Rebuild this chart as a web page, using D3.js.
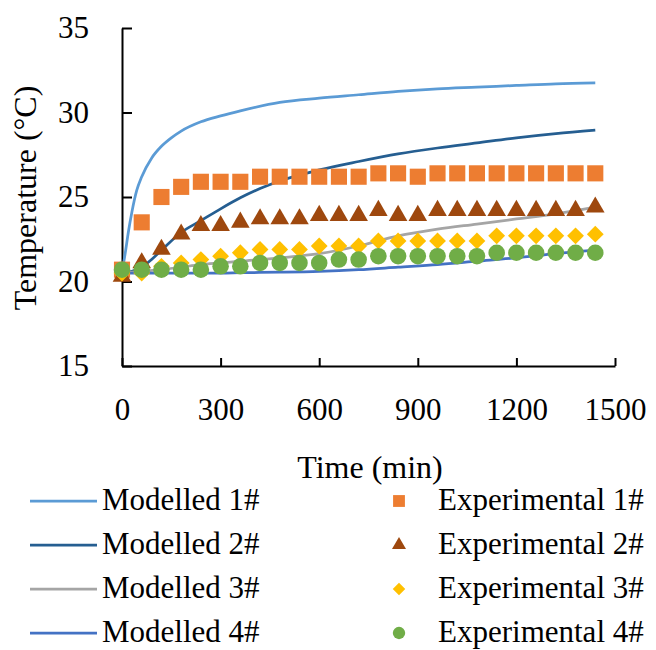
<!DOCTYPE html>
<html lang="en">
<head>
<meta charset="UTF-8">
<title>Temperature vs time</title>
<script src="https://d3js.org/d3.v7.min.js"></script>
<style>
  body { margin: 0; background: #fff; }
  svg text { font-family: "Palatino Linotype", "Book Antiqua", Palatino, "Liberation Serif", serif; fill: #000; }
  .axis path, .axis line { stroke: #000; stroke-width: 2; }
  .axis text { font-size: 31px; }
</style>
</head>
<body>
<svg width="656" height="650"></svg>
<script>
// experimental readings, one every 60 min
const expTime = d3.range(0, 1441, 60);
const exp1 = [20.7, 23.5, 25.0, 25.6, 25.9, 25.9, 25.9, 26.2, 26.2, 26.2, 26.2, 26.2, 26.2, 26.4, 26.4, 26.2, 26.4, 26.4, 26.4, 26.4, 26.4, 26.4, 26.4, 26.4, 26.4];
const exp2 = [20.3, 21.1, 21.9, 22.8, 23.3, 23.3, 23.5, 23.7, 23.7, 23.7, 23.9, 23.9, 23.9, 24.2, 23.9, 23.9, 24.2, 24.2, 24.2, 24.2, 24.2, 24.2, 24.2, 24.2, 24.4];
const exp3 = [20.5, 20.5, 20.9, 21.1, 21.3, 21.5, 21.7, 21.9, 21.9, 21.9, 22.1, 22.1, 22.1, 22.4, 22.4, 22.4, 22.4, 22.4, 22.4, 22.7, 22.7, 22.7, 22.7, 22.7, 22.8];
const exp4 = [20.7, 20.7, 20.7, 20.7, 20.7, 20.9, 20.9, 21.1, 21.1, 21.1, 21.1, 21.3, 21.3, 21.5, 21.5, 21.5, 21.5, 21.5, 21.5, 21.7, 21.7, 21.7, 21.7, 21.7, 21.7];

// modelled curves
const modTime1 = [0, 10, 20, 30, 45, 60, 90, 120, 150, 180, 240, 300, 360, 480, 600, 720, 840, 960, 1080, 1200, 1320, 1440];
const mod1 = [20.5, 21.7, 23.0, 24.1, 25.4, 26.2, 27.3, 28.0, 28.5, 28.9, 29.45, 29.8, 30.1, 30.6, 30.85, 31.05, 31.25, 31.4, 31.5, 31.6, 31.7, 31.75];
const modTime2 = [0, 30, 60, 90, 120, 180, 240, 300, 360, 420, 480, 600, 720, 840, 960, 1080, 1200, 1320, 1440];
const mod2 = [20.5, 20.6, 20.85, 21.3, 21.85, 22.9, 23.6, 24.3, 24.95, 25.5, 25.95, 26.6, 27.1, 27.55, 27.9, 28.2, 28.5, 28.75, 28.95];
const modTime34 = [0, 60, 120, 180, 240, 300, 360, 480, 600, 720, 840, 960, 1080, 1200, 1320, 1440];
const mod3 = [20.5, 20.6, 20.7, 20.85, 21.0, 21.1, 21.2, 21.4, 21.65, 22.1, 22.7, 23.1, 23.4, 23.7, 24.0, 24.4];
const mod4 = [20.5, 20.5, 20.5, 20.5, 20.5, 20.5, 20.52, 20.55, 20.6, 20.7, 20.85, 21.0, 21.2, 21.4, 21.65, 21.85];

const xTicks = [0, 300, 600, 900, 1200, 1500];
const yTicks = [15, 20, 25, 30, 35];

const modelled = [
  { name: "Modelled 1#", t: modTime1, v: mod1, color: "#5B9BD5" },
  { name: "Modelled 2#", t: modTime2, v: mod2, color: "#255E91" },
  { name: "Modelled 3#", t: modTime34, v: mod3, color: "#A5A5A5" },
  { name: "Modelled 4#", t: modTime34, v: mod4, color: "#4472C4" }
];
const experimental = [
  { name: "Experimental 1#", v: exp1, color: "#ED7D31", shape: d3.symbolSquare, size: 260, lsize: 140 },
  { name: "Experimental 2#", v: exp2, color: "#9E480E", shape: d3.symbolTriangle, size: 150, lsize: 85 },
  { name: "Experimental 3#", v: exp3, color: "#FFC000", shape: d3.symbolDiamond2 || d3.symbolDiamond, size: 180, lsize: 100 },
  { name: "Experimental 4#", v: exp4, color: "#70AD47", shape: d3.symbolCircle, size: 215, lsize: 120 }
];

const svg = d3.select("svg");
const x = d3.scaleLinear().domain([0, 1500]).range([122, 615]);
const y = d3.scaleLinear().domain([15, 35]).range([366, 28]);

svg.append("g")
  .attr("class", "axis")
  .attr("transform", `translate(0,${y(15)})`)
  .call(d3.axisBottom(x).tickValues(xTicks).tickFormat(d3.format("d"))
    .tickSizeInner(-8).tickSizeOuter(0).tickPadding(32));

svg.append("g")
  .attr("class", "axis")
  .attr("transform", `translate(${x(0)},0)`)
  .call(d3.axisLeft(y).tickValues(yTicks).tickFormat(d3.format("d"))
    .tickSizeInner(-10).tickSizeOuter(0).tickPadding(33));

const line = d3.line().curve(d3.curveMonotoneX);
svg.append("g").selectAll("path")
  .data(modelled)
  .join("path")
  .attr("fill", "none")
  .attr("stroke", d => d.color)
  .attr("stroke-width", 2.75)
  .attr("d", d => line(d.t.map((t, i) => [x(t), y(d.v[i])])));

experimental.forEach(s => {
  svg.append("g").selectAll("path")
    .data(s.v)
    .join("path")
    .attr("transform", (v, i) => `translate(${x(expTime[i])},${y(v)})`)
    .attr("d", d3.symbol().type(s.shape).size(s.size))
    .attr("fill", s.color);
});

svg.append("text")
  .attr("x", 370).attr("y", 478)
  .attr("text-anchor", "middle")
  .style("font-size", "32px")
  .text("Time (min)");

svg.append("text")
  .attr("transform", "translate(36,198) rotate(-90)")
  .attr("text-anchor", "middle")
  .style("font-size", "32px")
  .text("Temperature (°C)");

// legend
const rowY = [501, 545, 589, 633];
const leg = svg.append("g");
modelled.forEach((s, i) => {
  leg.append("line")
    .attr("x1", 30).attr("x2", 97)
    .attr("y1", rowY[i]).attr("y2", rowY[i])
    .attr("stroke", s.color).attr("stroke-width", 2.75);
  leg.append("text")
    .attr("x", 102).attr("y", rowY[i] + 9)
    .style("font-size", "31px")
    .text(s.name);
});
experimental.forEach((s, i) => {
  leg.append("path")
    .attr("transform", `translate(399,${rowY[i]})`)
    .attr("d", d3.symbol().type(s.shape).size(s.lsize))
    .attr("fill", s.color);
  leg.append("text")
    .attr("x", 438).attr("y", rowY[i] + 9)
    .style("font-size", "31px")
    .text(s.name);
});
</script>
</body>
</html>
